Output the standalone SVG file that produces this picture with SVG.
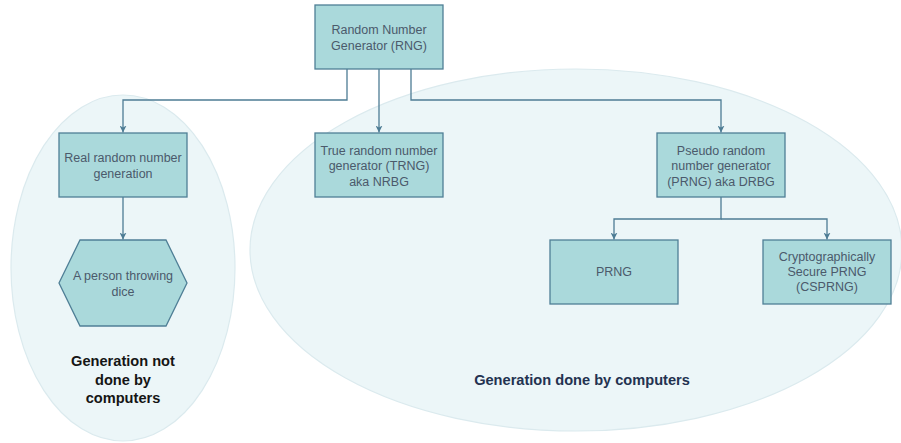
<svg xmlns="http://www.w3.org/2000/svg" width="901" height="443" viewBox="0 0 901 443">
<style>
.region{fill:#ecf6f8;stroke:#dbeaee;stroke-width:1.2}
.box{fill:#aad9db;stroke:#4f7f96;stroke-width:1.3}
.t{font-family:"Liberation Sans",Arial,Helvetica,sans-serif;font-size:12.5px;fill:#4b5a6b;text-anchor:middle}
.lbl{font-family:"Liberation Sans",Arial,Helvetica,sans-serif;font-size:14.6px;font-weight:bold;text-anchor:middle}
.edge{fill:none;stroke:#4d7c94;stroke-width:1.3}
</style>
<defs>
<marker id="arr" viewBox="0 0 10 10" refX="10" refY="5" markerWidth="7" markerHeight="7" markerUnits="userSpaceOnUse" orient="auto">
<path d="M0,0 L10,5 L0,10 L3,5 Z" fill="#4d7c94"/>
</marker>
</defs>
<rect width="901" height="443" fill="#ffffff"/>
<g id="region-not-computers">
<ellipse class="region" cx="123" cy="268" rx="112" ry="173"/>
<text class="lbl" fill="#151515" x="123" y="366">Generation not</text>
<text class="lbl" fill="#151515" x="123" y="384.5">done by</text>
<text class="lbl" fill="#151515" x="123" y="403">computers</text>
</g>
<g id="region-computers">
<ellipse class="region" cx="576" cy="250" rx="326" ry="181"/>
<text class="lbl" fill="#233250" x="582" y="384.5">Generation done by computers</text>
</g>
<g id="connectors">
<path class="edge" d="M347,69 V100 H123 V132.5" marker-end="url(#arr)"/>
<path class="edge" d="M379,69 V132.5" marker-end="url(#arr)"/>
<path class="edge" d="M411,69 V100 H721 V132.5" marker-end="url(#arr)"/>
<path class="edge" d="M123,197 V239.5" marker-end="url(#arr)"/>
<path class="edge" d="M721,197 V219 H614 V239.5" marker-end="url(#arr)"/>
<path class="edge" d="M721,219 H827 V239.5" marker-end="url(#arr)"/>
</g>
<g id="rng">
<rect class="box" x="315" y="5" width="128" height="64"/>
<text class="t" x="379" y="34">Random Number</text>
<text class="t" x="379" y="50">Generator (RNG)</text>
</g>
<g id="real">
<rect class="box" x="59" y="133" width="128" height="64"/>
<text class="t" x="123" y="162">Real random number</text>
<text class="t" x="123" y="177.5">generation</text>
</g>
<g id="dice">
<polygon class="box" points="59,283 80,240 166,240 187,283 166,326 80,326"/>
<text class="t" x="123" y="279.5">A person throwing</text>
<text class="t" x="123" y="295.5">dice</text>
</g>
<g id="trng">
<rect class="box" x="315" y="133" width="128" height="64"/>
<text class="t" x="379" y="154.5">True random number</text>
<text class="t" x="379" y="170">generator (TRNG)</text>
<text class="t" x="379" y="185.5">aka NRBG</text>
</g>
<g id="prng-parent">
<rect class="box" x="657" y="133" width="128" height="64"/>
<text class="t" x="721" y="154.5">Pseudo random</text>
<text class="t" x="721" y="170">number generator</text>
<text class="t" x="721" y="185.5">(PRNG) aka DRBG</text>
</g>
<g id="prng">
<rect class="box" x="550" y="240" width="128" height="64"/>
<text class="t" x="614" y="276">PRNG</text>
</g>
<g id="csprng">
<rect class="box" x="763" y="240" width="128" height="64"/>
<text class="t" x="827" y="261">Cryptographically</text>
<text class="t" x="827" y="276">Secure PRNG</text>
<text class="t" x="827" y="291">(CSPRNG)</text>
</g>
</svg>
